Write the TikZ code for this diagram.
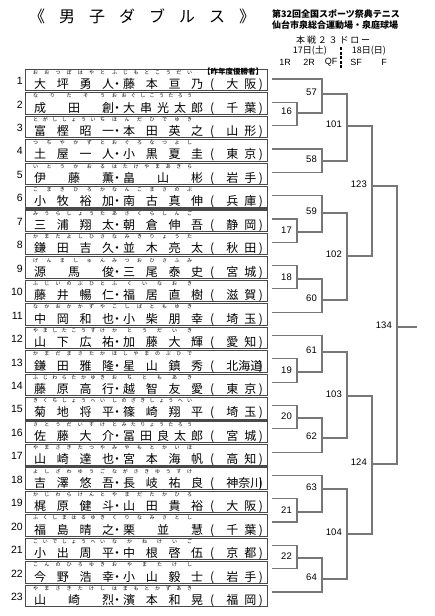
\documentclass[tikz,border=0pt]{standalone}
\usepackage{fontspec}
\setmainfont{Liberation Sans}
\newfontfamily\jpf{Noto Sans CJK JP}
\usepackage{tikz}
\usetikzlibrary{calc}
\definecolor{brkcol}{HTML}{777777}
\definecolor{boxcol}{HTML}{4A4A4A}

% spread the characters of a name evenly over a fixed width
\ExplSyntaxOn
\bool_new:N \l_spread_first_bool
\NewDocumentCommand \spreadtxt { m m }
  {
    \makebox[#1][s]
      {
        \bool_set_true:N \l_spread_first_bool
        \exp_args:No \tl_map_inline:nn {#2}
          {
            \bool_if:NF \l_spread_first_bool { \hfill }
            \bool_set_false:N \l_spread_first_bool
            ##1
          }
      }
  }
\ExplSyntaxOff

\tikzset{
  entbox/.style={draw=boxcol, line width=1.1pt, minimum width=242pt,
                 minimum height=21.5pt, inner sep=0pt, anchor=west},
  numf/.style={anchor=east, inner sep=0pt, font=\fontsize{10.5}{10.5}\selectfont},
  kana/.style={anchor=base west, inner sep=0pt, font=\jpf\fontsize{5}{5}\selectfont},
  namef/.style={anchor=base west, inner sep=0pt, font=\jpf\fontsize{12}{12}\selectfont},
  hdr/.style={anchor=base west, inner sep=0pt, font=\jpf\bfseries\fontsize{9}{9}\selectfont},
  rlab/.style={inner sep=0pt, font=\fontsize{9}{9}\selectfont},
  mlab/.style={anchor=east, inner sep=0pt, xshift=-5pt, yshift=1.5pt,
               font=\fontsize{9.5}{9.5}\selectfont},
  brk/.style={draw=brkcol, line width=1.2pt},
}

\begin{document}
\begin{tikzpicture}[x=1pt, y=-1pt]
  \useasboundingbox (0,0) rectangle (434,616);

  % --- heading ------------------------------------------------------
  \node[anchor=base west, inner sep=0pt, font=\jpf\fontsize{16}{16}\selectfont]
        (title) at (29,22) {\spreadtxt{226pt}{《男子ダブルス》}};
  \node[hdr] (meet) at (272,17.5) {第32回全国スポーツ祭典テニス};
  \node[hdr] (venue) at (272,28.4) {仙台市泉総合運動場・泉庭球場};
  \node[hdr, font=\jpf\fontsize{9}{9}\selectfont] (draw) at (296,43.4) {\spreadtxt{74pt}{本戦２３ドロー}};
  \node[font=\jpf\fontsize{9}{9}\selectfont, inner sep=0pt] (day1) at (310,51) {17日(土)};
  \node[font=\jpf\fontsize{9}{9}\selectfont, inner sep=0pt] (day2) at (369,51) {18日(日)};
  \draw[line width=1.3pt, dash pattern=on 3pt off 1.6pt] (341,47) -- (341,68);
  \foreach \r/\x in {1R/285, 2R/309, QF/331, SF/356, F/384}
    \node[rlab] (r\r) at (\x,62.5) {\r};

  % --- entries ------------------------------------------------------
  \foreach \n/\fa/\na/\fb/\nb/\pr in {
      1/おおつぼはやと/大坪勇人/ふじもとこうだい/藤本亘乃/大阪,
      2/なりたそう/成田創/おおぐしこうたろう/大串光太郎/千葉,
      3/とがししょういち/富樫昭一/ほんだひでゆき/本田英之/山形,
      4/つちやかずと/土屋一人/おぐろなつよし/小黒夏圭/東京,
      5/いとうかおる/伊藤薫/はたけやまあきら/畠山彬/岩手,
      6/こまきひろか/小牧裕加/なんこまさのぶ/南古真伸/兵庫,
      7/みうらしょうた/三浦翔太/あさくらしんご/朝倉伸吾/静岡,
      8/かまたよしひさ/鎌田吉久/なみきりょうた/並木亮太/秋田,
      9/げんましゅん/源馬俊/みつおひさふみ/三尾泰史/宮城,
      10/ふじいのぶひと/藤井暢仁/ふくいなおき/福居直樹/滋賀,
      11/なかおかかずや/中岡和也/こしばともゆき/小柴朋幸/埼玉,
      12/やましたこうすけ/山下広祐/かとうだいき/加藤大輝/愛知,
      13/かまだまさたか/鎌田雅隆/ほしやまのぶひで/星山鎮秀/北海道,
      14/ふじわらたかゆき/藤原高行/おちともあき/越智友愛/東京,
      15/きくちしょうへい/菊地将平/しのざきしょうへい/篠崎翔平/埼玉,
      16/さとうだいすけ/佐藤大介/とみたりょうたろう/冨田良太郎/宮城,
      17/やまさきたつや/山崎達也/みやもとかいほ/宮本海帆/高知,
      18/よしざわゆうご/吉澤悠吾/ながさきゆうすけ/長岐祐良/神奈川,
      19/かじわらけんと/梶原健斗/やまだたかひろ/山田貴裕/大阪,
      20/ふくしまはるゆき/福島晴之/くりなみさとし/栗並慧/千葉,
      21/こいでしょうへい/小出周平/なかねけいご/中根啓伍/京都,
      22/こんのひろゆき/今野浩幸/おやまたけし/小山毅士/岩手,
      23/やまさきたけし/山崎烈/はまもとかずあき/濱本和晃/福岡}
  {
    \pgfmathsetmacro\yc{80+(\n-1)*23.45}
    \node[entbox] (e\n) at (25,\yc) {};
    \node[numf] (n\n) at (23,\yc+1) {\n};
    \node[kana] (ka\n) at (33,\yc-5.6) {\spreadtxt{72pt}{\fa}};
    \node[kana] (kb\n) at (112,\yc-5.6) {\spreadtxt{80pt}{\fb}};
    \node[namef] (na\n) at (34,\yc+8.6) {\spreadtxt{80pt}{\na}};
    \node[namef] (dt\n) at (111,\yc+8.6) {・};
    \node[namef] (nb\n) at (123,\yc+8.6) {\spreadtxt{80pt}{\nb}};
    \node[namef] (pr\n) at (210,\yc+8.6) {(\hspace{12pt}\spreadtxt{30pt}{\pr}\hspace{2.5pt})};
  }
  \node[inner sep=0pt, font=\jpf\bfseries\fontsize{7.5}{7.5}\selectfont] (champ) at (233,72) {【昨年度優勝者】};

  % --- draw bracket ---------------------------------------------------
  \foreach \k in {1,...,23}
    \coordinate (t\k) at (272,{79+(\k-1)*23.32});
  \foreach \m/\x/\y in {16/297/113, 17/297/232, 18/297/279, 19/297/372,
                        20/297/418, 21/297/512, 22/297/558,
                        57/322/94, 58/322/161, 59/322/213, 60/322/300,
                        61/322/352, 62/322/438, 63/322/489, 64/322/579,
                        101/347/126, 102/347/256, 103/347/396, 104/347/534,
                        123/372/186, 124/372/464, 134/397/327}
    \coordinate (m\m) at (\x,\y);
  \coordinate (win) at (417,327);

  \foreach \m/\a/\b in {16/t2/t3, 17/t7/t8, 18/t9/t10, 19/t13/t14, 20/t15/t16,
                        21/t19/t20, 22/t21/t22,
                        57/t1/m16, 58/t4/t5, 59/t6/m17, 60/m18/t11,
                        61/t12/m19, 62/m20/t17, 63/t18/m21, 64/m22/t23,
                        101/m57/m58, 102/m59/m60, 103/m61/m62, 104/m63/m64,
                        123/m101/m102, 124/m103/m104, 134/m123/m124}
  {
    \draw[brk] (\a) -| (m\m) |- (\b);
    \node[mlab] (l\m) at (m\m) {\m};
  }
  \draw[brk] (m134) -- (win);

\end{tikzpicture}
\end{document}
